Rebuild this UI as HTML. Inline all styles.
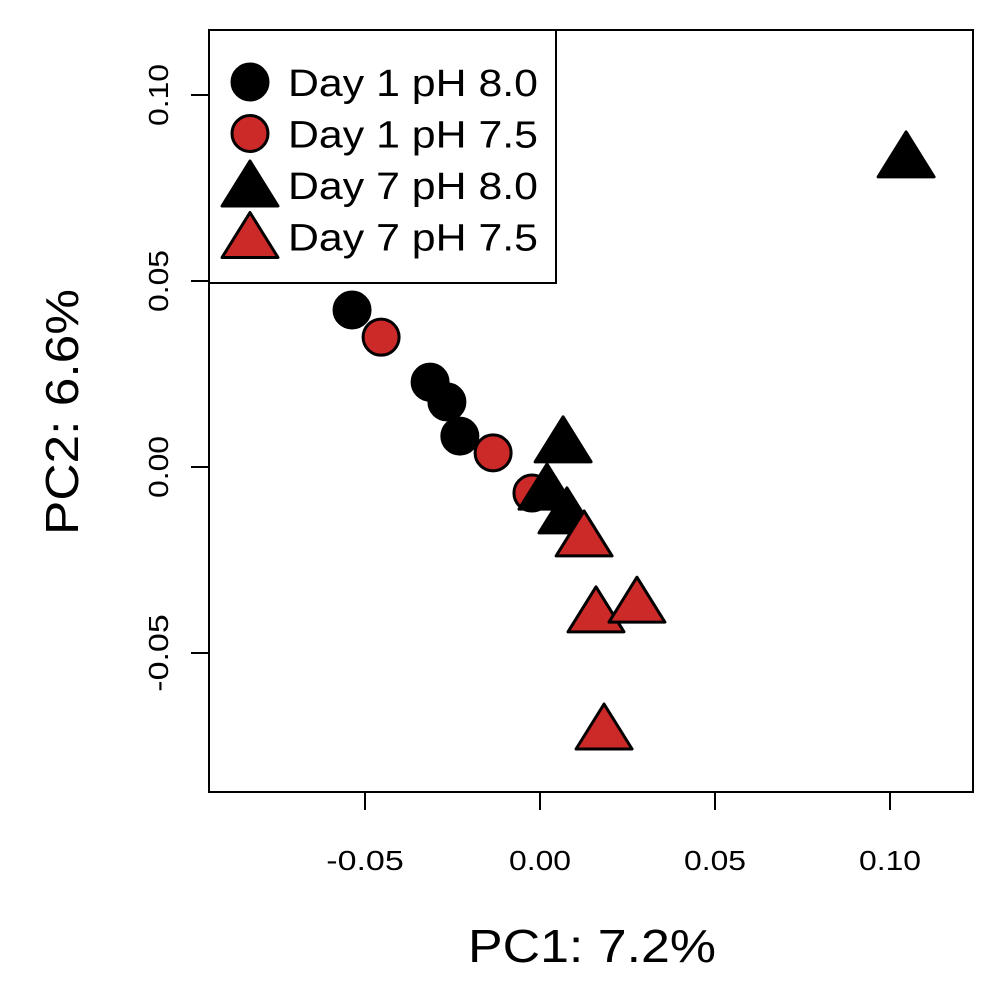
<!DOCTYPE html>
<html><head><meta charset="utf-8"><style>body{margin:0;background:#fff}svg{display:block;font-family:"Liberation Sans",sans-serif}</style></head>
<body>
<svg id="c" width="1003" height="1003"></svg>
<script>
const groups=["Day 1 pH 8.0","Day 1 pH 7.5","Day 7 pH 8.0","Day 7 pH 7.5"];
const pc1_d1_80=[-0.0537,-0.0314,-0.0266,-0.0229];
const pc2_d1_80=[0.0422,0.0228,0.0175,0.0083];
const pc1_d1_75=[-0.0454,-0.0134,-0.0023];
const pc2_d1_75=[0.0349,0.0038,-0.0070];
const pc1_d7_80=[0.1046,0.0066,0.0020,0.0077];
const pc2_d7_80=[0.0831,0.0065,-0.0062,-0.0126];
const pc1_d7_75=[0.0126,0.0160,0.0277,0.0183];
const pc2_d7_75=[-0.0188,-0.0392,-0.0366,-0.0707];
const xTicks=["-0.05","0.00","0.05","0.10"];
const yTicks=["-0.05","0.00","0.05","0.10"];
const NS="http://www.w3.org/2000/svg",svg=document.getElementById('c');
const X=v=>540+v*3500, Y=v=>467-v*3720;
function mk(t,a,p){const e=document.createElementNS(NS,t);for(const k in a)e.setAttribute(k,a[k]);(p||svg).appendChild(e);return e;}
const RED="#CC2929";
let e=mk('rect',{x:209,y:30,width:764,height:762,fill:'none',stroke:'#000','stroke-width':2});

xTicks.forEach(t=>{const x=X(parseFloat(t));
 let l=mk('line',{x1:x,x2:x,y1:792,y2:810,stroke:'#000','stroke-width':2});
 
 let tx=mk('text',{x:x,y:870,'text-anchor':'middle','font-size':28,textLength:t.length*15.5,lengthAdjust:'spacingAndGlyphs'});tx.textContent=t;
 });
yTicks.forEach(t=>{const y=Y(parseFloat(t));
 let l=mk('line',{x1:191,x2:209,y1:y,y2:y,stroke:'#000','stroke-width':2});
 
 let tx=mk('text',{x:0,y:0,'text-anchor':'middle','font-size':28,textLength:t.length*15.5,lengthAdjust:'spacingAndGlyphs',transform:`translate(168,${y}) rotate(-90)`});tx.textContent=t;
 });
e=mk('text',{x:592,y:962,'text-anchor':'middle','font-size':46,textLength:248,lengthAdjust:'spacingAndGlyphs'});e.textContent="PC1: 7.2%";

e=mk('text',{x:0,y:0,'text-anchor':'middle','font-size':46,textLength:246,lengthAdjust:'spacingAndGlyphs',transform:'translate(78,412) rotate(-90)'});e.textContent="PC2: 6.6%";

function circ(cx,cy,fill){return mk('circle',{cx:cx,cy:cy,r:18,fill:fill,stroke:'#000','stroke-width':3});}
function tri(cx,cy,fill){return mk('polygon',{points:`${cx},${cy-26} ${cx+28},${cy+19} ${cx-28},${cy+19}`,fill:fill,stroke:'#000','stroke-width':3,'stroke-linejoin':'round'});}
pc1_d1_80.forEach((v,i)=>{let p=circ(X(v),Y(pc2_d1_80[i]),'#000');});
pc1_d1_75.forEach((v,i)=>{let p=circ(X(v),Y(pc2_d1_75[i]),RED);});
pc1_d7_80.forEach((v,i)=>{let p=tri(X(v),Y(pc2_d7_80[i]),'#000');});
pc1_d7_75.forEach((v,i)=>{let p=tri(X(v),Y(pc2_d7_75[i]),RED);});
e=mk('rect',{x:209,y:30,width:347,height:253,fill:'#fff',stroke:'#000','stroke-width':2});

const fills=['#000',RED,'#000',RED];
groups.forEach((g,i)=>{const y=82+i*51.5;
 let s=i<2?circ(250,y,fills[i]):tri(250,y+2,fills[i]);
 
 let t=mk('text',{x:288,y:y+14,'font-size':38,textLength:250,lengthAdjust:'spacingAndGlyphs'});t.textContent=g;
 });
</script>
</body></html>
